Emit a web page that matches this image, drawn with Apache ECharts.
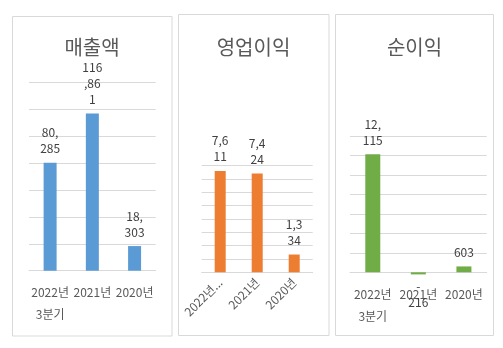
<!DOCTYPE html>
<html><head><meta charset="utf-8">
<script src="https://cdn.jsdelivr.net/npm/echarts@6/dist/echarts.min.js"></script>
<style>html,body{margin:0;padding:0;background:#fff}#c{width:503px;height:348px}</style>
</head><body><div id="c"></div>
<script>
var titles = ['매출액', '영업이익', '순이익'];
var categories = ['2022년\n3분기', '2021년', '2020년'];
var salesValues = [80285, 116861, 18303];
var opProfitValues = [7611, 7424, 1334];
var netProfitValues = [12115, -216, 603];
var salesLabels = ['80,\n285', '116\n,86\n1', '18,\n303'];
var opProfitLabels = ['7,6\n11', '7,4\n24', '1,3\n34'];
var netProfitLabels = ['12,\n115', '-\n216', '603'];

var FONT = '"Noto Sans CJK KR", "Noto Sans", sans-serif';
var GRID = '#d9d9d9', TXT = '#595959', LBL = '#404040';
var chart = echarts.init(document.getElementById('c'));

function yAxis(i, max, interval) {
  return { gridIndex: i, type: 'value', min: 0, max: max, interval: interval,
    axisLabel: { show: false }, axisLine: { show: false }, axisTick: { show: false },
    splitLine: { lineStyle: { color: GRID, width: 1 } } };
}
function xAxis(i, rotate) {
  return { gridIndex: i, type: 'category', data: categories,
    axisLine: { lineStyle: { color: GRID, width: 1 } }, axisTick: { show: false },
    axisLabel: rotate ? { rotate: 45, margin: 8, color: TXT, fontSize: 12, fontFamily: FONT,
        formatter: function (v) { return v.indexOf('\n') >= 0 ? v.split('\n')[0] + '...' : v; } }
      : { margin: 11, color: TXT, fontSize: 12, fontFamily: FONT, lineHeight: 22, interval: 0 } };
}
function series(i, values, labels, color, bw) {
  return { type: 'bar', xAxisIndex: i, yAxisIndex: i, barWidth: bw, clip: false,
    itemStyle: { color: color },
    data: values.map(function (v, k) {
      return { value: v, label: v < 0 ? { position: 'bottom', distance: 4 } : {} };
    }),
    label: { show: true, position: 'top', distance: 6, color: LBL, fontSize: 12, lineHeight: 16,
      fontFamily: FONT, formatter: function (p) { return labels[p.dataIndex]; } } };
}

chart.setOption({
  animation: false,
  grid: [
    { left: 29, right: 347.3, top: 82.3, bottom: 77.3 },
    { left: 201.7, right: 190.3, top: 165.7, bottom: 75.7 },
    { left: 350, right: 16.3, top: 136, bottom: 75.7 }
  ],
  xAxis: [xAxis(0, false), xAxis(1, true), xAxis(2, false)],
  yAxis: [yAxis(0, 140000, 20000), yAxis(1, 8000, 1000), yAxis(2, 14000, 2000)],
  series: [
    series(0, salesValues, salesLabels, '#5b9bd5', 13),
    series(1, opProfitValues, opProfitLabels, '#ed7d31', 11),
    series(2, netProfitValues, netProfitLabels, '#70ad47', 15)
  ],
  graphic: [
    { type: 'rect', shape: { x: 12.5, y: 16.5, width: 159.5, height: 319.5 }, style: { fill: 'none', stroke: GRID, lineWidth: 1 }, z: -1 },
    { type: 'rect', shape: { x: 178.5, y: 14.5, width: 150.5, height: 321 }, style: { fill: 'none', stroke: GRID, lineWidth: 1 }, z: -1 },
    { type: 'rect', shape: { x: 335.5, y: 14.5, width: 158, height: 321 }, style: { fill: 'none', stroke: GRID, lineWidth: 1 }, z: -1 },
    { type: 'text', x: 92, y: 47, style: { text: titles[0], fill: TXT, font: '20px ' + FONT, textAlign: 'center', textVerticalAlign: 'middle' } },
    { type: 'text', x: 253.5, y: 47, style: { text: titles[1], fill: TXT, font: '20px ' + FONT, textAlign: 'center', textVerticalAlign: 'middle' } },
    { type: 'text', x: 414.5, y: 47, style: { text: titles[2], fill: TXT, font: '20px ' + FONT, textAlign: 'center', textVerticalAlign: 'middle' } }
  ]
});
</script></body></html>
